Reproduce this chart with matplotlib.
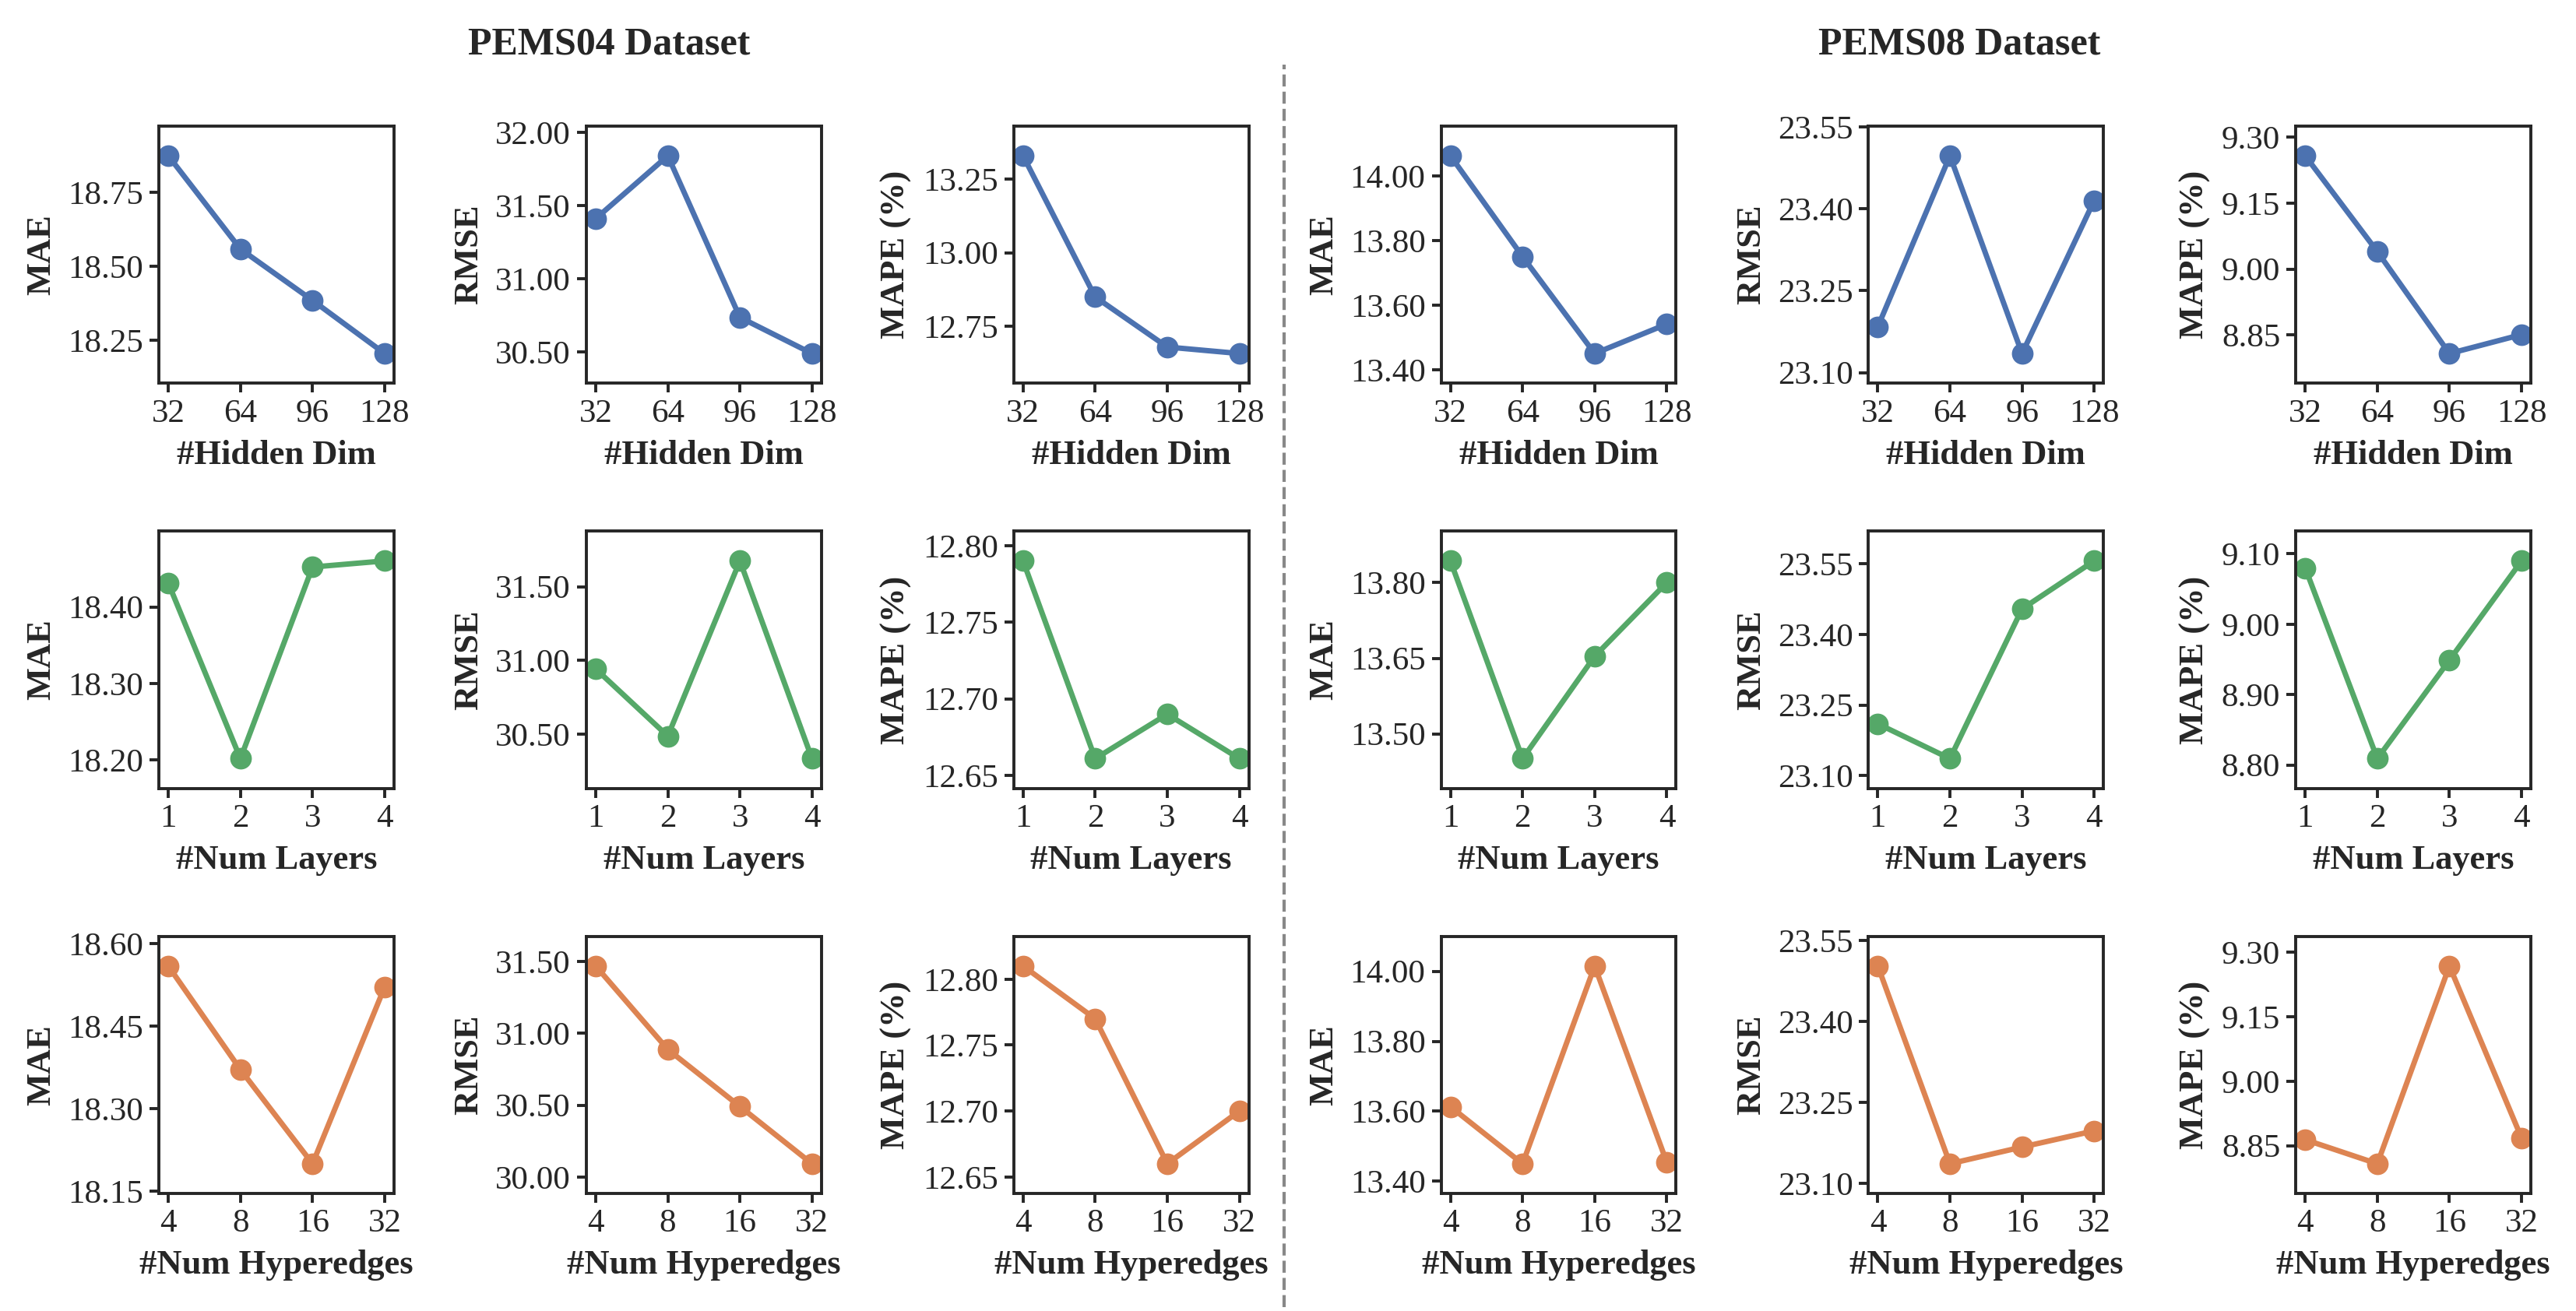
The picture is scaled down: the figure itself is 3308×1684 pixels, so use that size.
import numpy as np
import matplotlib
matplotlib.use('Agg')
import matplotlib.pyplot as plt
from matplotlib.ticker import FormatStrFormatter

# x categories
hidden_dims = ['32', '64', '96', '128']
num_layers = ['1', '2', '3', '4']
num_hyperedges = ['4', '8', '16', '32']

# PEMS04 - hidden dim
pems04_mae_hidden = [18.875, 18.559, 18.385, 18.205]
pems04_rmse_hidden = [31.412, 31.842, 30.737, 30.490]
pems04_mape_hidden = [13.329, 12.850, 12.680, 12.658]
# PEMS08 - hidden dim
pems08_mae_hidden = [14.062, 13.750, 13.450, 13.541]
pems08_rmse_hidden = [23.184, 23.497, 23.135, 23.415]
pems08_mape_hidden = [9.258, 9.040, 8.808, 8.851]

# PEMS04 - num layers
pems04_mae_layers = [18.431, 18.202, 18.452, 18.460]
pems04_rmse_layers = [30.942, 30.486, 31.675, 30.333]
pems04_mape_layers = [12.790, 12.661, 12.690, 12.661]
# PEMS08 - num layers
pems08_mae_layers = [13.843, 13.451, 13.654, 13.800]
pems08_rmse_layers = [23.210, 23.136, 23.454, 23.556]
pems08_mape_layers = [9.080, 8.809, 8.949, 9.090]

# PEMS04 - num hyperedges
pems04_mae_hyper = [18.559, 18.371, 18.200, 18.521]
pems04_rmse_hyper = [31.469, 30.888, 30.491, 30.092]
pems04_mape_hyper = [12.810, 12.770, 12.660, 12.700]
# PEMS08 - num hyperedges
pems08_mae_hyper = [13.613, 13.450, 14.015, 13.454]
pems08_rmse_hyper = [23.503, 23.136, 23.167, 23.197]
pems08_mape_hyper = [8.864, 8.808, 9.268, 8.868]

# y tick values per row (6 panels each)
yticks_hidden = [[18.25, 18.50, 18.75], [30.5, 31.0, 31.5, 32.0], [12.75, 13.00, 13.25],
                 [13.4, 13.6, 13.8, 14.0], [23.10, 23.25, 23.40, 23.55], [8.85, 9.00, 9.15, 9.30]]
yticks_layers = [[18.2, 18.3, 18.4], [30.5, 31.0, 31.5], [12.65, 12.70, 12.75, 12.80],
                 [13.50, 13.65, 13.80], [23.10, 23.25, 23.40, 23.55], [8.8, 8.9, 9.0, 9.1]]
yticks_hyper = [[18.15, 18.30, 18.45, 18.60], [30.0, 30.5, 31.0, 31.5], [12.65, 12.70, 12.75, 12.80],
                [13.4, 13.6, 13.8, 14.0], [23.10, 23.25, 23.40, 23.55], [8.85, 9.00, 9.15, 9.30]]

metric_labels = ['MAE', 'RMSE', 'MAPE (%)', 'MAE', 'RMSE', 'MAPE (%)']

rows = [
    (hidden_dims, '#Hidden Dim', '#4C72B0', yticks_hidden,
     [pems04_mae_hidden, pems04_rmse_hidden, pems04_mape_hidden,
      pems08_mae_hidden, pems08_rmse_hidden, pems08_mape_hidden]),
    (num_layers, '#Num Layers', '#55A868', yticks_layers,
     [pems04_mae_layers, pems04_rmse_layers, pems04_mape_layers,
      pems08_mae_layers, pems08_rmse_layers, pems08_mape_layers]),
    (num_hyperedges, '#Num Hyperedges', '#DD8452', yticks_hyper,
     [pems04_mae_hyper, pems04_rmse_hyper, pems04_mape_hyper,
      pems08_mae_hyper, pems08_rmse_hyper, pems08_mape_hyper]),
]

dark = '#262626'
plt.rcParams['font.family'] = ['Liberation Serif', 'DejaVu Serif']
plt.rcParams['text.color'] = dark
plt.rcParams['axes.labelcolor'] = dark

fig, axes = plt.subplots(3, 6, figsize=(16.54, 8.42), dpi=200)
fig.subplots_adjust(left=0.0617, right=0.9825, top=0.9038, bottom=0.0897,
                    wspace=0.818, hspace=0.576)

for r, (cats, xlabel, color, yticks_row, series) in enumerate(rows):
    for c in range(6):
        ax = axes[r, c]
        vals = np.array(series[c])
        x = np.arange(len(cats))
        ax.plot(x, vals, '-o', color=color, linewidth=2.5, markersize=9)
        ax.set_xticks(x)
        ax.set_xticklabels(cats)
        ax.set_xlim(-0.13, len(cats) - 1 + 0.13)
        ax.set_yticks(yticks_row[c])
        rng = vals.max() - vals.min()
        ax.set_ylim(vals.min() - 0.15 * rng, vals.max() + 0.15 * rng)
        ax.yaxis.set_major_formatter(FormatStrFormatter('%.2f'))
        ax.set_xlabel(xlabel, fontsize=16, fontweight='bold', labelpad=5)
        ax.set_ylabel(metric_labels[c], fontsize=16, fontweight='bold', labelpad=5)
        ax.tick_params(direction='out', length=4.2, width=1.4, labelsize=15.5, colors=dark,
                       pad=3)
        for sp in ax.spines.values():
            sp.set_linewidth(1.4)
            sp.set_color(dark)

fig.text(0.2365, 0.966, 'PEMS04 Dataset', ha='center', va='center',
         fontsize=18, fontweight='bold')
fig.text(0.7606, 0.966, 'PEMS08 Dataset', ha='center', va='center',
         fontsize=18, fontweight='bold')

fig.add_artist(plt.Line2D([0.4985, 0.4985], [0.003, 0.951], transform=fig.transFigure,
                          color='#888888', linestyle='--', linewidth=1.5))

fig.savefig('out.png', dpi=200)
